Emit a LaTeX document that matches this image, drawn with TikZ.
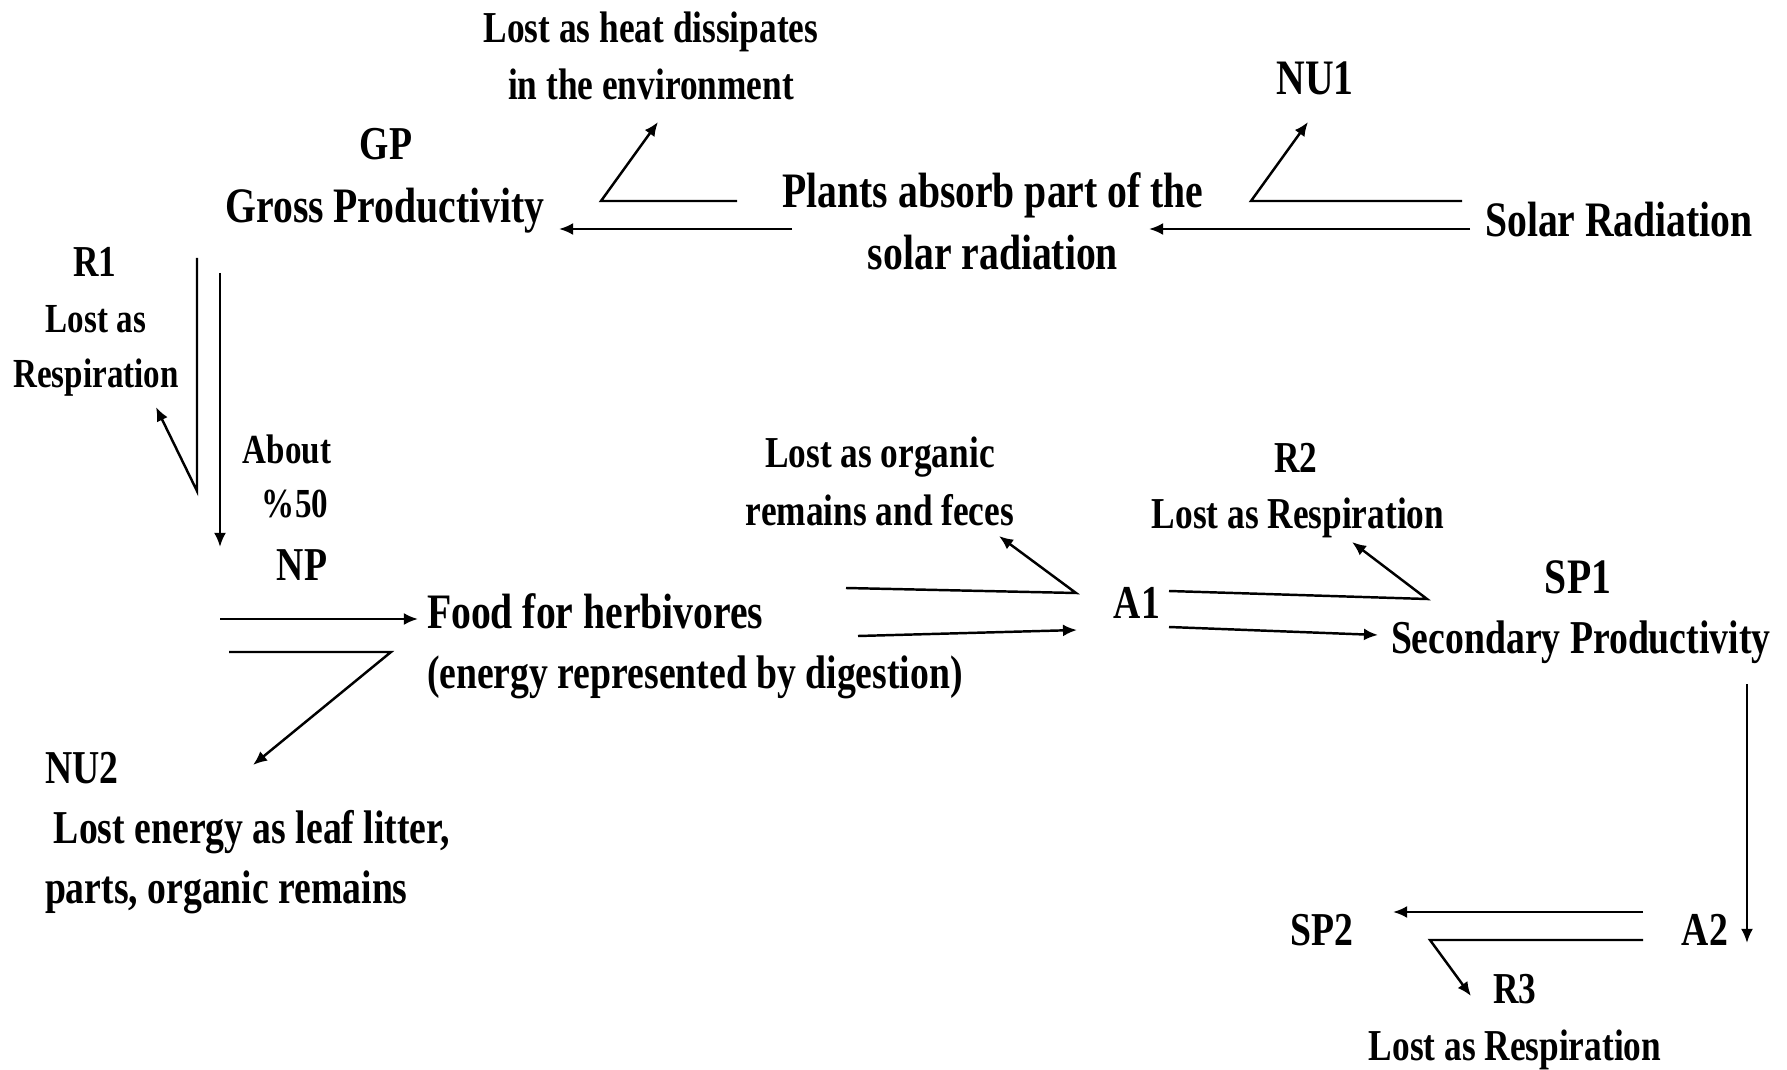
\documentclass[tikz,border=0pt]{standalone}
\usepackage{fontspec}
\setmainfont{Liberation Serif}[FakeStretch=0.8]
\usetikzlibrary{arrows.meta}
\begin{document}
\begin{tikzpicture}[x=0.01cm,y=-0.01cm,
  lbl/.style={inner sep=0pt, outer sep=0pt, anchor=base},
  fbig/.style={lbl, font=\fontsize{14.1pt}{16pt}\selectfont\bfseries},
  fmid/.style={lbl, font=\fontsize{13.4pt}{16pt}\selectfont\bfseries},
  fsmall/.style={lbl, font=\fontsize{12.55pt}{15pt}\selectfont\bfseries},
  fxs/.style={lbl, font=\fontsize{11.75pt}{14pt}\selectfont\bfseries},
  ln/.style={line width=0.7pt, line join=miter},
  arr/.style={ln, -{Latex[length=4pt,width=3.4pt]}}]
\useasboundingbox[fill=white] (0,0) rectangle (1787,1070);

% ---- text nodes ----
\node[fsmall] (heat1) at (651,43) {Lost as heat dissipates};
\node[fsmall] (heat2) at (651,100) {in the environment};
\node[fmid] (gp) at (386,160) {GP};
\node[fbig] (gross) at (385,223) {Gross Productivity};
\node[fbig] (nu1) at (1315,95) {NU1};
\node[fbig] (plants1) at (993,208) {Plants absorb part of the};
\node[fbig] (plants2) at (993,270) {solar radiation};
\node[fbig] (solar) at (1619,237) {Solar Radiation};
\node[fsmall] (r1) at (95,277) {R1};
\node[fxs] (r1a) at (96,333) {Lost as};
\node[fxs] (r1b) at (96,387) {Respiration};
\node[fxs] (about) at (287,463) {About};
\node[fxs] (pct) at (295,517) {\%50};
\node[fmid] (np) at (302,580) {NP};
\node[fbig, anchor=base west] (food1) at (427,628) {Food for herbivores};
\node[fmid, anchor=base west] (food2) at (427,688) {(energy represented by digestion)};
\node[fmid, anchor=base west] (nu2) at (45,783) {NU2};
\node[fmid, anchor=base west] (nu2a) at (54,843) {Lost energy as leaf litter,};
\node[fmid, anchor=base west] (nu2b) at (45,903) {parts, organic remains};
\node[fsmall] (org1) at (880,468) {Lost as organic};
\node[fsmall] (org2) at (880,525) {remains and feces};
\node[fsmall] (r2) at (1296,472) {R2};
\node[fsmall] (r2a) at (1298,528) {Lost as Respiration};
\node[fmid] (a1) at (1137,618) {A1};
\node[fbig] (sp1) at (1578,593) {SP1};
\node[fmid, anchor=base west] (sec) at (1391,653) {Secondary Productivity};
\node[fmid] (sp2) at (1322,945) {SP2};
\node[fmid] (a2) at (1705,945) {A2};
\node[fsmall] (r3) at (1515,1003) {R3};
\node[fsmall] (r3a) at (1515,1060) {Lost as Respiration};

% ---- connector end points ----
\coordinate (c1a) at (1470,229); \coordinate (c1b) at (1149,229);
\coordinate (c2a) at (1462,201); \coordinate (c2b) at (1251,201); \coordinate (c2c) at (1308,122);
\coordinate (c3a) at (792,229);  \coordinate (c3b) at (559,229);
\coordinate (c4a) at (737,201);  \coordinate (c4b) at (601,201);  \coordinate (c4c) at (658,122);
\coordinate (c5a) at (197,258);  \coordinate (c5b) at (197,491);  \coordinate (c5c) at (156,407);
\coordinate (c6a) at (220,273);  \coordinate (c6b) at (220,547);
\coordinate (c7a) at (220,619);  \coordinate (c7b) at (418,619);
\coordinate (c8a) at (229,652);  \coordinate (c8b) at (391,652);  \coordinate (c8c) at (253,765);
\coordinate (c9a) at (846,588);  \coordinate (c9b) at (1076,593); \coordinate (c9c) at (999,536);
\coordinate (c10a) at (858,636); \coordinate (c10b) at (1077,630);
\coordinate (c11a) at (1169,591); \coordinate (c11b) at (1427,599); \coordinate (c11c) at (1352,542);
\coordinate (c12a) at (1169,627); \coordinate (c12b) at (1378,635);
\coordinate (c13a) at (1747,684); \coordinate (c13b) at (1747,943);
\coordinate (c14a) at (1643,912); \coordinate (c14b) at (1393,912);
\coordinate (c15a) at (1643,940); \coordinate (c15b) at (1430,940); \coordinate (c15c) at (1471,996);

% ---- connectors ----
\draw[arr] (c1a) -- (c1b);
\draw[arr] (c2a) -- (c2b) -- (c2c);
\draw[arr] (c3a) -- (c3b);
\draw[arr] (c4a) -- (c4b) -- (c4c);
\draw[arr] (c5a) -- (c5b) -- (c5c);
\draw[arr] (c6a) -- (c6b);
\draw[arr] (c7a) -- (c7b);
\draw[arr] (c8a) -- (c8b) -- (c8c);
\draw[arr] (c9a) -- (c9b) -- (c9c);
\draw[arr] (c10a) -- (c10b);
\draw[arr] (c11a) -- (c11b) -- (c11c);
\draw[arr] (c12a) -- (c12b);
\draw[arr] (c13a) -- (c13b);
\draw[arr] (c14a) -- (c14b);
\draw[arr] (c15a) -- (c15b) -- (c15c);
\end{tikzpicture}
\end{document}
